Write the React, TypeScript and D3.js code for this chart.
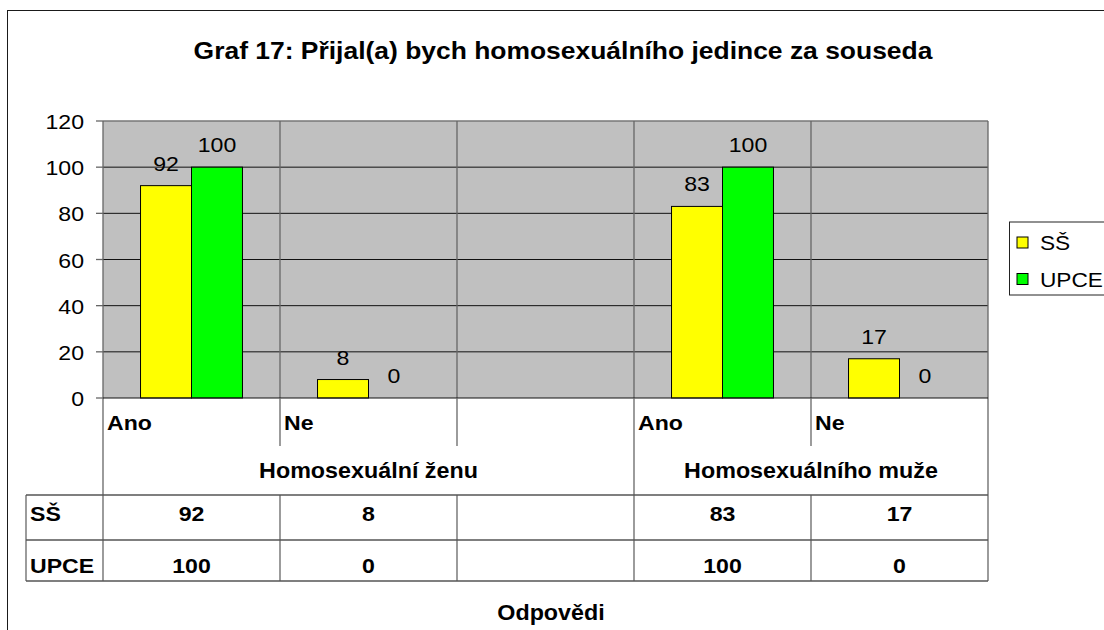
import * as d3 from "d3"
import type { ReactNode } from "react"

const categories = ["Ano", "Ne", "", "Ano", "Ne"]
const groupLabels = ["Homosexuální ženu", "Homosexuálního muže"]
const groupSpans = [3, 2]
const seriesNames = ["SŠ", "UPCE"]
const ssValues: (number | null)[] = [92, 8, null, 83, 17]
const upceValues: (number | null)[] = [100, 0, null, 100, 0]
const seriesColors = ["#ffff00", "#00ff00"]
const yTicks = [0, 20, 40, 60, 80, 100, 120]

const W = 1104
const H = 630
const FONT = "'Liberation Sans', Arial, sans-serif"
// the source picture is a little stretched sideways
const SX = 1.1

function T({
  x,
  y,
  size = 21,
  bold = false,
  anchor = "start",
  sx = SX,
  children,
}: {
  x: number
  y: number
  size?: number
  bold?: boolean
  anchor?: "start" | "middle" | "end"
  sx?: number
  children: ReactNode
}) {
  return (
    <text
      transform={`translate(${x},${y}) scale(${sx},1)`}
      textAnchor={anchor}
      fontSize={size}
      fontWeight={bold ? "bold" : "normal"}
      fill="#000"
    >
      {children}
    </text>
  )
}

export default function App() {
  const left = 103
  const right = 988
  const top = 121
  const bottom = 398
  const tableLeft = 26
  const catRowEnd = 446
  const groupRowEnd = 495
  const ssRowEnd = 540
  const upceRowEnd = 581

  const series = [ssValues, upceValues]

  const y = d3.scaleLinear().domain([0, 120]).range([bottom, top])
  const x = d3
    .scaleBand<number>()
    .domain(categories.map((_, i) => i))
    .range([left, right])
    .padding(0)
  const bw = x.bandwidth()
  const inner = d3
    .scaleBand<number>()
    .domain(seriesNames.map((_, i) => i))
    .range([bw * 0.212, bw * 0.788])

  // band edges, i = 1..n-1
  const edges = d3.range(1, categories.length).map((i) => x(i)!)
  const groupStarts = d3.cumsum([0, ...groupSpans]).slice(0, groupSpans.length)
  const groupEdgeIdx = new Set(groupStarts.slice(1))

  const rowBase = [521, 573]
  const gray = "#666"

  return (
    <svg
      width={W}
      height={H}
      style={{ position: "absolute", left: 0, top: 0, fontFamily: FONT }}
    >
      <rect width={W} height={H} fill="#fff" />
      <rect x={7.5} y={10.5} width={1200} height={700} fill="none" stroke="#1a1a1a" />

      <T x={563} y={59} size={23} bold anchor="middle" sx={1.15}>
        Graf 17: Přijal(a) bych homosexuálního jedince za souseda
      </T>

      {/* plot area */}
      <rect x={left} y={top} width={right - left} height={bottom - top} fill="#c0c0c0" />
      {yTicks
        .filter((t) => t > 0 && t < 120)
        .map((t) => (
          <line key={t} x1={left} x2={right} y1={y(t)} y2={y(t)} stroke="#111" />
        ))}
      <line x1={left} x2={right} y1={top} y2={top} stroke="#777" strokeWidth={1.3} />

      {edges.map((ex, k) => (
        <line key={k} x1={ex} x2={ex} y1={top} y2={bottom} stroke={gray} strokeWidth={1.3} />
      ))}

      {/* bars */}
      {series.map((vals, s) =>
        vals.map((v, i) =>
          v === null ? null : (
            <rect
              key={`${s}-${i}`}
              x={x(i)! + inner(s)!}
              y={y(v)}
              width={inner.bandwidth()}
              height={bottom - y(v)}
              fill={seriesColors[s]}
              stroke="#000"
              strokeWidth={1}
            />
          )
        )
      )}

      {/* value labels */}
      {series.map((vals, s) =>
        vals.map((v, i) =>
          v === null ? null : (
            <T
              key={`l-${s}-${i}`}
              x={x(i)! + inner(s)! + inner.bandwidth() / 2}
              y={y(v) - 15}
              anchor="middle"
            >
              {v}
            </T>
          )
        )
      )}

      {/* y axis */}
      <line x1={left} x2={left} y1={top} y2={upceRowEnd} stroke={gray} strokeWidth={1.3} />
      <line x1={right} x2={right} y1={top} y2={upceRowEnd} stroke={gray} strokeWidth={1.3} />
      {yTicks.map((t) => (
        <g key={t}>
          <line x1={left - 7} x2={left} y1={y(t)} y2={y(t)} stroke={gray} strokeWidth={1.3} />
          <T x={84} y={y(t) + 8} anchor="end">
            {t}
          </T>
        </g>
      ))}
      <line x1={left} x2={right} y1={bottom} y2={bottom} stroke="#111" />

      {/* category + table area */}
      {edges.map((ex, k) => {
        const idx = k + 1
        return groupEdgeIdx.has(idx) ? (
          <line key={k} x1={ex} x2={ex} y1={bottom} y2={upceRowEnd} stroke={gray} strokeWidth={1.3} />
        ) : (
          <g key={k}>
            <line x1={ex} x2={ex} y1={bottom} y2={catRowEnd} stroke={gray} strokeWidth={1.3} />
            <line x1={ex} x2={ex} y1={groupRowEnd} y2={upceRowEnd} stroke={gray} strokeWidth={1.3} />
          </g>
        )
      })}
      <line x1={tableLeft} x2={tableLeft} y1={groupRowEnd} y2={upceRowEnd} stroke={gray} strokeWidth={1.3} />
      {[groupRowEnd, ssRowEnd, upceRowEnd].map((ry) => (
        <line key={ry} x1={tableLeft} x2={right} y1={ry} y2={ry} stroke="#555" strokeWidth={1.3} />
      ))}

      {categories.map((c, i) => (
        <T key={i} x={x(i)! + 4} y={430} bold>
          {c}
        </T>
      ))}

      {groupLabels.map((g, gi) => {
        const x0 = x(groupStarts[gi])!
        const x1 = x0 + groupSpans[gi] * bw
        return (
          <T key={g} x={(x0 + x1) / 2} y={478} size={22} bold anchor="middle" sx={1.06}>
            {g}
          </T>
        )
      })}

      {seriesNames.map((name, s) => (
        <g key={name}>
          <T x={30} y={rowBase[s]} bold>
            {name}
          </T>
          {series[s].map((v, i) =>
            v === null ? null : (
              <T key={i} x={x(i)! + bw / 2} y={rowBase[s]} bold anchor="middle">
                {v}
              </T>
            )
          )}
        </g>
      ))}

      <T x={551} y={620} size={22} bold anchor="middle" sx={1.06}>
        Odpovědi
      </T>

      {/* legend */}
      <rect x={1009.5} y={222} width={150} height={73} fill="#fff" stroke="#222" />
      {seriesNames.map((name, s) => (
        <g key={name}>
          <rect
            x={1017}
            y={237 + s * 36.5}
            width={11}
            height={11}
            fill={seriesColors[s]}
            stroke="#000"
          />
          <T x={1040} y={250 + s * 36.5} sx={1.08}>
            {name}
          </T>
        </g>
      ))}
    </svg>
  )
}
